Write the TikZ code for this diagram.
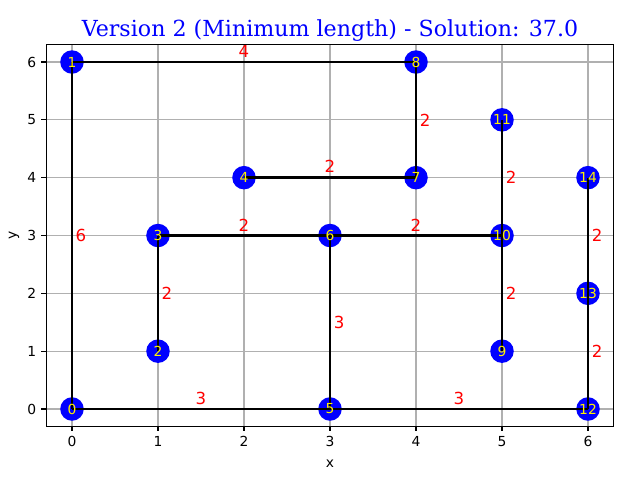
\documentclass[tikz,border=0pt]{standalone}
\usepackage{fontspec}
\setmainfont{DejaVu Sans}
\newfontfamily\titlefont{DejaVu Serif}
\usetikzlibrary{positioning}

\definecolor{gridgray}{HTML}{B0B0B0}

\begin{document}
\begin{tikzpicture}[
    x=0.86in, y=0.5783in,
    vertex/.style={circle, fill=blue, inner sep=0pt, minimum size=17pt},
    vlabel/.style={text=yellow, font=\fontsize{10}{12}\selectfont, inner sep=0pt},
    edge/.style={draw=black, line width=2pt},
    weight/.style={text=red, font=\fontsize{12}{14}\selectfont, inner sep=0pt},
    ticklabel/.style={font=\fontsize{10}{12}\selectfont, inner sep=0pt}
  ]
    \useasboundingbox (-0.72in,-0.71in) rectangle (5.68in,4.09in);
    % grid
    \foreach \i in {0,...,6} {
      \draw[gridgray, line width=0.8pt] (\i,-0.3) -- (\i,6.3);
      \draw[gridgray, line width=0.8pt] (-0.3,\i) -- (6.3,\i);
    }
    % vertices
    \node[vertex] (n0) at (0,0) {};
    \node[vertex] (n1) at (0,6) {};
    \node[vertex] (n2) at (1,1) {};
    \node[vertex] (n3) at (1,3) {};
    \node[vertex] (n4) at (2,4) {};
    \node[vertex] (n5) at (3,0) {};
    \node[vertex] (n6) at (3,3) {};
    \node[vertex] (n7) at (4,4) {};
    \node[vertex] (n8) at (4,6) {};
    \node[vertex] (n9) at (5,1) {};
    \node[vertex] (n10) at (5,3) {};
    \node[vertex] (n11) at (5,5) {};
    \node[vertex] (n12) at (6,0) {};
    \node[vertex] (n13) at (6,2) {};
    \node[vertex] (n14) at (6,4) {};
    % edges
    \draw[edge] (n0.center) -- (n1.center);
    \draw[edge] (n1.center) -- (n8.center);
    \draw[edge] (n8.center) -- (n7.center);
    \draw[edge] (n7.center) -- (n4.center);
    \draw[edge] (n3.center) -- (n6.center);
    \draw[edge] (n6.center) -- (n10.center);
    \draw[edge] (n3.center) -- (n2.center);
    \draw[edge] (n6.center) -- (n5.center);
    \draw[edge] (n0.center) -- (n5.center);
    \draw[edge] (n5.center) -- (n12.center);
    \draw[edge] (n11.center) -- (n10.center);
    \draw[edge] (n10.center) -- (n9.center);
    \draw[edge] (n14.center) -- (n13.center);
    \draw[edge] (n13.center) -- (n12.center);
    % vertex numbers
    \foreach \v in {0,...,14}
      \node[vlabel] at (n\v) {\v};
    % weights
    \node[weight] at (0.105,3) {6};
    \node[weight] at (2,6.19) {4};
    \node[weight] at (4.105,5) {2};
    \node[weight] at (3,4.19) {2};
    \node[weight] at (2,3.18) {2};
    \node[weight] at (4,3.18) {2};
    \node[weight] at (1.105,2) {2};
    \node[weight] at (3.105,1.5) {3};
    \node[weight] at (1.5,0.19) {3};
    \node[weight] at (4.5,0.19) {3};
    \node[weight] at (5.105,4) {2};
    \node[weight] at (5.105,2) {2};
    \node[weight] at (6.105,3) {2};
    \node[weight] at (6.105,1) {2};
    % frame and ticks
    \draw[line width=0.8pt] (-0.3,-0.3) rectangle (6.3,6.3);
    \foreach \i in {0,...,6} {
      \draw[line width=0.8pt] (\i,-0.3) -- ++(0,-3.5pt);
      \node[ticklabel, anchor=north] at ([yshift=-7pt]\i,-0.3) {\i};
      \draw[line width=0.8pt] (-0.3,\i) -- ++(-3.5pt,0);
      \node[ticklabel, anchor=east] at ([xshift=-7pt]-0.3,\i) {\i};
    }
    \node[ticklabel, anchor=base] (xlab) at (2.58in,-0.58in) {x};
    \node[ticklabel, rotate=90] (ylab) at (-0.58in,1.735in) {y};
    \node[anchor=base, text=blue, font=\titlefont\fontsize{16}{19}\selectfont] (title)
      at (2.58in,3.727in) {Version 2 (Minimum length) - Solution: 37.0};
  \end{tikzpicture}
\end{document}
